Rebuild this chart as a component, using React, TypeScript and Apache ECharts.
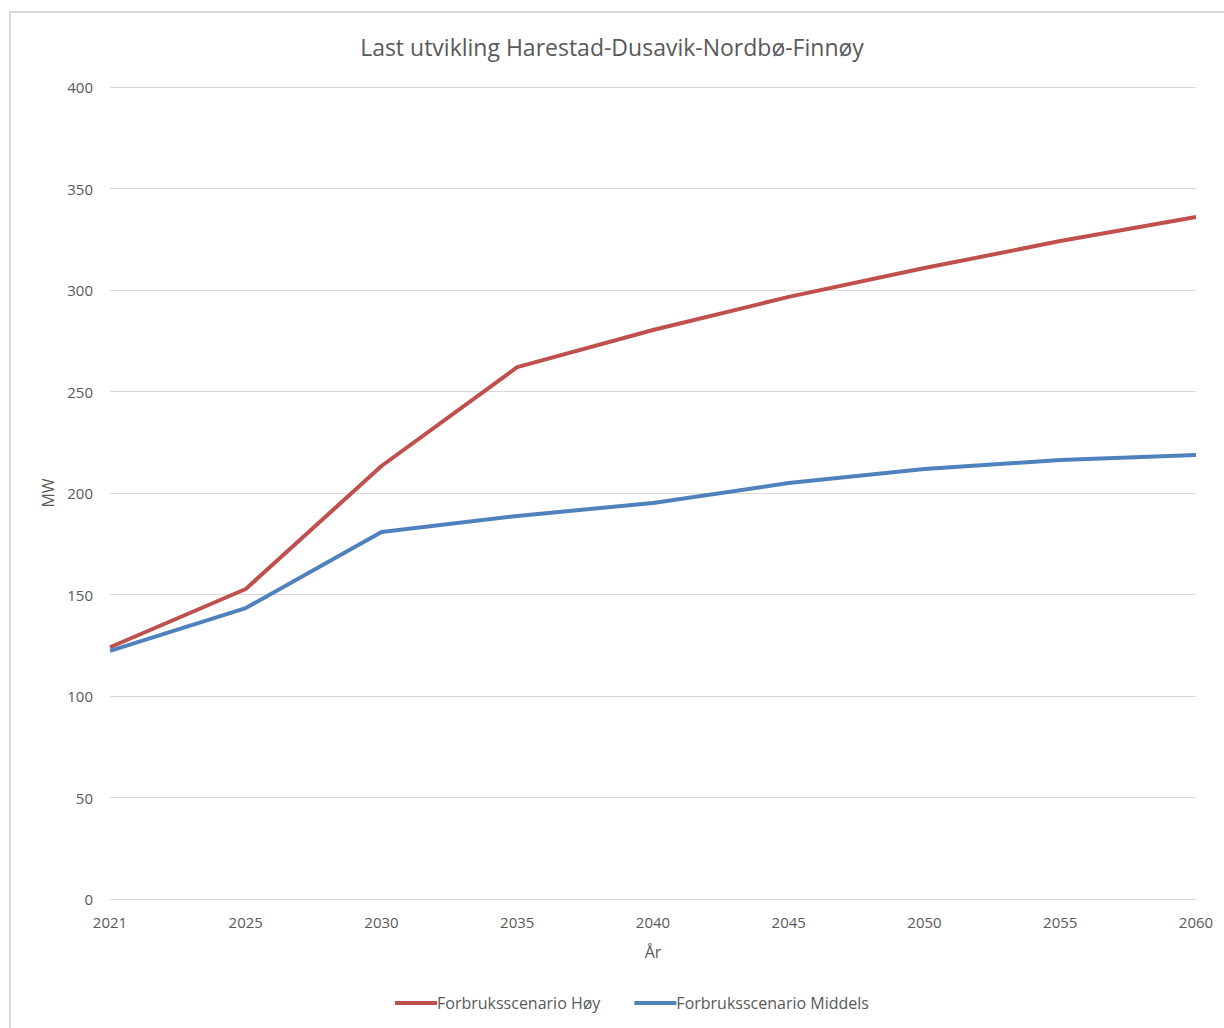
import React, { useEffect, useRef } from "react";
import * as echarts from "echarts";

const years = ["2021", "2025", "2030", "2035", "2040", "2045", "2050", "2055", "2060"];
const hoy = [124, 152.7, 213.3, 262, 280.3, 296.6, 310.8, 324.1, 336];
const middels = [122.2, 143.3, 180.8, 188.7, 195.1, 204.9, 211.8, 216.3, 218.7];
const seriesNames = ["Forbruksscenario Høy", "Forbruksscenario Middels"];
const titleText = "Last utvikling Harestad-Dusavik-Nordbø-Finnøy";

const FONT = "'Open Sans', 'Noto Sans', sans-serif";

export default function App() {
  const ref = useRef<HTMLDivElement>(null);
  useEffect(() => {
    if (!ref.current) return;
    const chart = echarts.init(ref.current, undefined, { renderer: "svg" });
    chart.setOption({
      animation: false,
      backgroundColor: "#ffffff",
      title: {
        text: titleText,
        left: "center",
        top: 30,
        textStyle: { fontFamily: FONT, fontSize: 23, fontWeight: "normal", color: "#595959" },
      },
      graphic: [
        {
          type: "rect",
          shape: { x: 10, y: 12, width: 1240, height: 1040 },
          style: { fill: "none", stroke: "#d9d9d9", lineWidth: 2 },
          silent: true,
        },
      ],
      legend: {
        bottom: 12,
        left: 390,
        icon: "rect",
        itemWidth: 42,
        itemHeight: 4,
        itemGap: 34,
        textStyle: { fontFamily: FONT, fontSize: 16, color: "#595959", padding: [0, 0, 0, -5] },
        data: seriesNames,
      },
      grid: { left: 110, right: 28, top: 87, bottom: 129, containLabel: false },
      xAxis: {
        type: "category",
        data: years,
        boundaryGap: false,
        name: "År",
        nameLocation: "middle",
        nameGap: 45,
        nameTextStyle: { fontFamily: FONT, fontSize: 16, color: "#595959" },
        axisLine: { show: true, lineStyle: { color: "#d9d9d9", width: 1 } },
        axisTick: { show: false },
        axisLabel: { fontFamily: FONT, fontSize: 15, color: "#595959", margin: 15 },
      },
      yAxis: {
        type: "value",
        min: 0,
        max: 400,
        interval: 50,
        name: "MW",
        nameLocation: "middle",
        nameGap: 54,
        nameRotate: 90,
        nameTextStyle: { fontFamily: FONT, fontSize: 16, color: "#595959" },
        axisLine: { show: false },
        axisTick: { show: false },
        axisLabel: { fontFamily: FONT, fontSize: 15, color: "#595959", margin: 17 },
        splitLine: { lineStyle: { color: "#d9d9d9", width: 1 } },
      },
      series: [
        {
          name: seriesNames[0],
          type: "line",
          data: hoy,
          symbol: "none",
          lineStyle: { color: "#c0504d", width: 4 },
          itemStyle: { color: "#c0504d" },
        },
        {
          name: seriesNames[1],
          type: "line",
          data: middels,
          symbol: "none",
          lineStyle: { color: "#4f81bd", width: 4 },
          itemStyle: { color: "#4f81bd" },
        },
      ],
    });
    return () => chart.dispose();
  }, []);
  return (
    <div
      ref={ref}
      style={{ position: "absolute", left: 0, top: 0, width: 1224, height: 1028 }}
    />
  );
}
